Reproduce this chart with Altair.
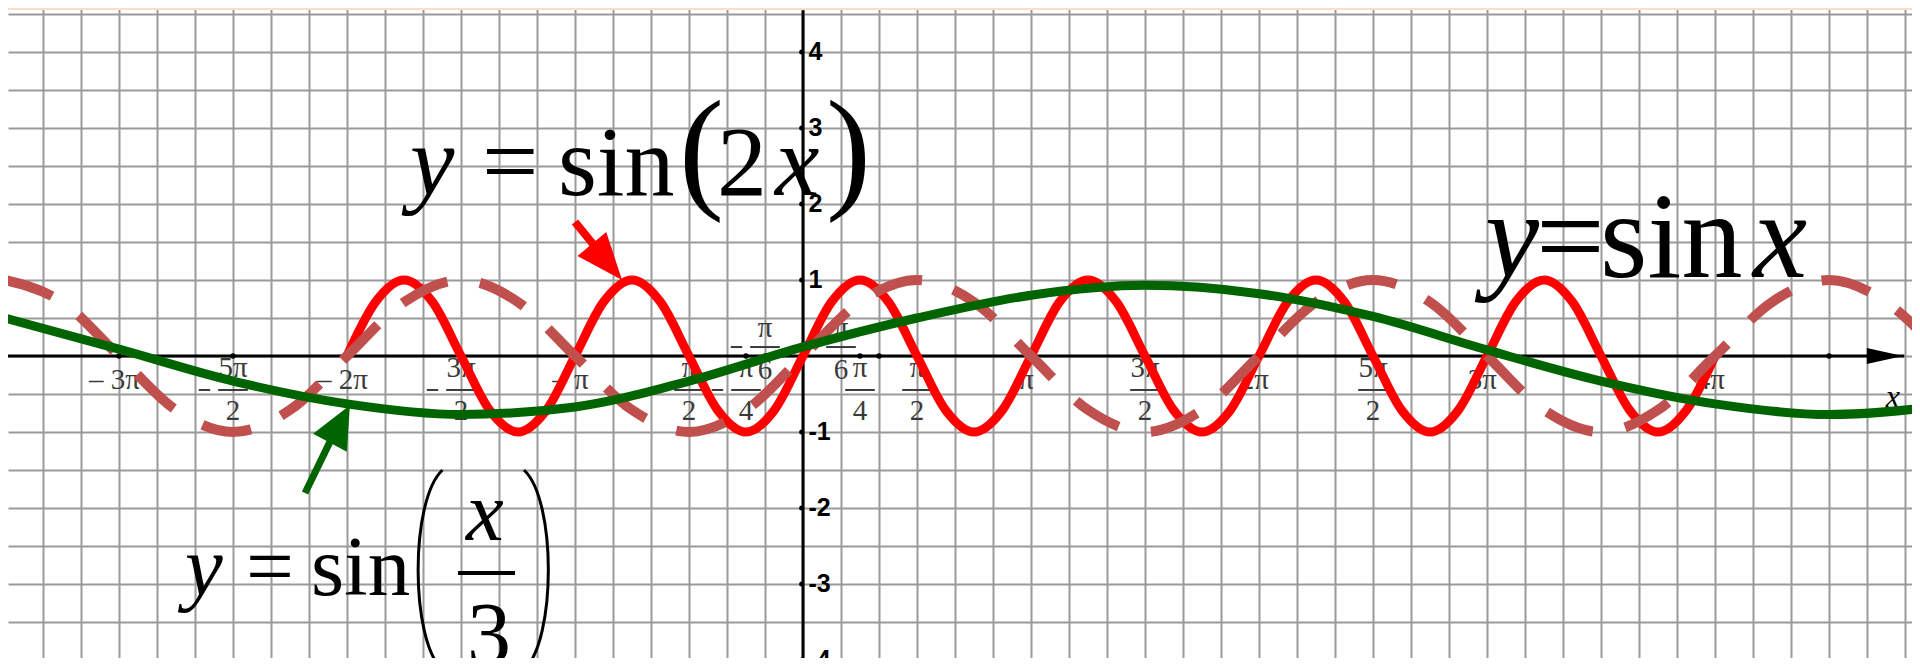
import altair as alt
import pandas as pd

# ---------------- data (x in multiples of pi, y in plot units) ----------------
red_x = [-2.0, -1.875, -1.75, -1.625, -1.5, -1.375, -1.25, -1.125,
         -1.0, -0.875, -0.75, -0.625, -0.5, -0.375, -0.25, -0.125,
         0.0, 0.125, 0.25, 0.375, 0.5, 0.625, 0.75, 0.875,
         1.0, 1.125, 1.25, 1.375, 1.5, 1.625, 1.75, 1.875,
         2.0, 2.125, 2.25, 2.375, 2.5, 2.625, 2.75, 2.875,
         3.0, 3.125, 3.25, 3.375, 3.5, 3.625, 3.75, 3.875, 4.0]
red_y = [0, 0.71, 1, 0.71, 0, -0.71, -1, -0.71,
         0, 0.71, 1, 0.71, 0, -0.71, -1, -0.71,
         0, 0.71, 1, 0.71, 0, -0.71, -1, -0.71,
         0, 0.71, 1, 0.71, 0, -0.71, -1, -0.71,
         0, 0.71, 1, 0.71, 0, -0.71, -1, -0.71,
         0, 0.71, 1, 0.71, 0, -0.71, -1, -0.71, 0]

dash_x = [-3.5, -3.25, -3.0, -2.75, -2.5, -2.25, -2.0, -1.75,
          -1.5, -1.25, -1.0, -0.75, -0.5, -0.25, 0.0, 0.25,
          0.5, 0.75, 1.0, 1.25, 1.5, 1.75, 2.0, 2.25,
          2.5, 2.75, 3.0, 3.25, 3.5, 3.75, 4.0, 4.25,
          4.5, 4.75, 5.0]
dash_y = [1, 0.71, 0, -0.71, -1, -0.71, 0, 0.71,
          1, 0.71, 0, -0.71, -1, -0.71, 0, 0.71,
          1, 0.71, 0, -0.71, -1, -0.71, 0, 0.71,
          1, 0.71, 0, -0.71, -1, -0.71, 0, 0.71,
          1, 0.71, 0]

green_x = [-3.5, -3.0, -2.5, -2.0, -1.5, -1.0, -0.5, 0.0, 0.5,
           1.0, 1.5, 2.0, 2.5, 3.0, 3.5, 4.0, 4.5, 5.0]
green_y = [0.50, 0.09, -0.33, -0.63, -0.77, -0.67, -0.33, 0.12, 0.50,
           0.80, 0.93, 0.82, 0.52, 0.08, -0.33, -0.63, -0.77, -0.66]

ytick_vals = [4, 3, 2, 1, -1, -2, -3, -4]
ytick_text = ["4", "3", "2", "1", "-1", "-2", "-3", "-4"]

xlab_x = [-3, -2, -1, 1, 2, 3, 4]
xlab_text = ["– 3π", "– 2π", "– π", "π", "2π", "3π", "4π"]

frac_x = [-2.5, -1.5, -0.5, -0.25, 0.25, 0.5, 1.5, 2.5]
frac_num = ["5π", "3π", "π", "π", "π", "π", "3π", "5π"]
frac_den = ["2", "2", "2", "4", "4", "2", "2", "2"]
frac_neg = [True, True, True, True, False, False, False, False]

frac6_x = [-1 / 6, 1 / 6]
frac6_num = ["π", "π"]
frac6_den = ["6", "6"]
frac6_neg = [True, False]

xdot_x = [-3, -2.5, -2, -1.5, -0.25, -1 / 6, 0.25, 1 / 3, 4.5]

# ---------------- layout ----------------
W, H = 1904, 650
X_DOM = [-3.48684, 4.86404]
Y_DOM = [-3.97368, 4.57895]
grid_x = [k / 6 for k in range(-21, 30)]
grid_y = [k / 2 for k in range(-8, 10)]

xs = alt.Scale(domain=X_DOM, nice=False, zero=False)
ys = alt.Scale(domain=Y_DOM, nice=False, zero=False)
ax_x = alt.Axis(values=grid_x, grid=True, labels=False, ticks=False, domain=False,
                title=None, gridColor="#9a9a9a", gridWidth=2, gridOpacity=1)
ax_y = alt.Axis(values=grid_y, grid=True, labels=False, ticks=False, domain=False,
                title=None, gridColor="#9a9a9a", gridWidth=2, gridOpacity=1)


def X(f):
    return alt.X(f, type="quantitative", scale=xs, axis=ax_x)


def Y(f):
    return alt.Y(f, type="quantitative", scale=ys, axis=ax_y)


LBL_Y, NUM_Y, BAR_Y, DEN_Y = -0.316, -0.158, -0.447, -0.724
NUM6_Y, BAR6_Y, DEN6_Y = 0.368, 0.118, -0.184

red_df = pd.DataFrame({"x": red_x, "y": red_y})
dash_df = pd.DataFrame({"x": dash_x, "y": dash_y})
green_df = pd.DataFrame({"x": green_x, "y": green_y})

# axes lines
xaxis_df = pd.DataFrame({"x": [X_DOM[0]], "x2": [4.83], "y": [0.0]})
yaxis_df = pd.DataFrame({"x": [0.0], "y": [Y_DOM[0]], "y2": [4.55]})

x_axis = alt.Chart(xaxis_df).mark_rule(color="black", strokeWidth=3).encode(
    x=X("x"), x2="x2", y=Y("y"))
y_axis = alt.Chart(yaxis_df).mark_rule(color="black", strokeWidth=3).encode(
    x=X("x"), y=Y("y"), y2="y2")
arrow_df = pd.DataFrame({"x": [4.745], "y": [0.0]})
x_arrow = alt.Chart(arrow_df).mark_point(
    shape="M1,0 L-1,-0.45 L-1,0.45 Z", filled=True, size=1300, color="black", opacity=1
).encode(x=X("x"), y=Y("y"))
xname = alt.Chart(pd.DataFrame({"x": [4.78], "y": [-0.54], "t": ["x"]})).mark_text(
    font="Liberation Serif", fontStyle="italic", fontSize=32, color="black",
    align="center", baseline="middle").encode(x=X("x"), y=Y("y"), text="t")

peach = alt.Chart(pd.DataFrame({"a": [0]})).mark_rect(color="#FBDCC5").encode(
    x=alt.value(0), x2=alt.value(W), y=alt.value(0), y2=alt.value(2))

# tick dots
xdots = alt.Chart(pd.DataFrame({"x": xdot_x, "y": [0.0] * len(xdot_x)})).mark_point(
    shape="circle", filled=True, size=30, color="black", opacity=1).encode(x=X("x"), y=Y("y"))
ydots = alt.Chart(pd.DataFrame({"x": [-0.006] * len(ytick_vals), "y": ytick_vals})).mark_point(
    shape="circle", filled=True, size=25, color="black", opacity=1).encode(x=X("x"), y=Y("y"))

# y labels
ylabels = alt.Chart(pd.DataFrame({"x": [0.024] * len(ytick_vals), "y": ytick_vals, "t": ytick_text})
                    ).mark_text(font="Liberation Sans", fontWeight="bold", fontSize=25,
                                color="black", align="left", baseline="middle"
                                ).encode(x=X("x"), y=Y("y"), text="t")

# x labels
lab_font = dict(font="Liberation Serif", fontSize=29, color="#3a3a3a", align="center", baseline="middle")
xlabels = alt.Chart(pd.DataFrame({"x": [v - 0.02 for v in xlab_x], "y": [LBL_Y] * len(xlab_x),
                                  "t": xlab_text})).mark_text(**lab_font).encode(
    x=X("x"), y=Y("y"), text="t")


def frac_layers(fx, fnum, fden, fneg, ny, by, dy):
    num = alt.Chart(pd.DataFrame({"x": fx, "y": [ny] * len(fx), "t": fnum})).mark_text(
        **lab_font).encode(x=X("x"), y=Y("y"), text="t")
    den = alt.Chart(pd.DataFrame({"x": fx, "y": [dy] * len(fx), "t": fden})).mark_text(
        **lab_font).encode(x=X("x"), y=Y("y"), text="t")
    bars = alt.Chart(pd.DataFrame({"x": [v - 0.065 for v in fx], "x2": [v + 0.065 for v in fx],
                                   "y": [by] * len(fx)})).mark_rule(
        color="#3a3a3a", strokeWidth=2).encode(x=X("x"), x2="x2", y=Y("y"))
    nx = [v for v, n in zip(fx, fneg) if n]
    minus = alt.Chart(pd.DataFrame({"x": [v - 0.15 for v in nx], "x2": [v - 0.1 for v in nx],
                                    "y": [by] * len(nx)})).mark_rule(
        color="#3a3a3a", strokeWidth=2).encode(x=X("x"), x2="x2", y=Y("y"))
    return [num, den, bars, minus]


fr1 = frac_layers(frac_x, frac_num, frac_den, frac_neg, NUM_Y, BAR_Y, DEN_Y)
fr2 = frac_layers(frac6_x, frac6_num, frac6_den, frac6_neg, NUM6_Y, BAR6_Y, DEN6_Y)

# curves
red_line = alt.Chart(red_df).mark_line(color="#FF0000", strokeWidth=9, interpolate="monotone",
                                       clip=True).encode(x=X("x"), y=Y("y"))
dash_line = alt.Chart(dash_df).mark_line(color="#C0504D", strokeWidth=10, strokeDash=[50, 33],
                                         strokeCap="butt", interpolate="monotone",
                                         clip=True).encode(x=X("x"), y=Y("y"))
green_line = alt.Chart(green_df).mark_line(color="#006400", strokeWidth=9, interpolate="monotone",
                                           clip=True).encode(x=X("x"), y=Y("y"))

# arrows
red_shaft = alt.Chart(pd.DataFrame({"x": [-1.0], "x2": [-0.915], "y": [1.763], "y2": [1.45]})
                      ).mark_rule(color="#FF0000", strokeWidth=8).encode(
    x=X("x"), x2="x2", y=Y("y"), y2="y2")
red_head = alt.Chart(pd.DataFrame({"x": [-0.86], "y": [1.237]})).mark_point(
    shape="M0,-1 L0.8,1 L-0.8,1 Z", filled=True, size=2209, angle=140,
    color="#FF0000", opacity=1).encode(x=X("x"), y=Y("y"))
green_shaft = alt.Chart(pd.DataFrame({"x": [-2.184], "x2": [-2.07], "y": [-1.803], "y2": [-1.10]})
                        ).mark_rule(color="#006400", strokeWidth=7).encode(
    x=X("x"), x2="x2", y=Y("y"), y2="y2")
green_head = alt.Chart(pd.DataFrame({"x": [-2.031], "y": [-0.895]})).mark_point(
    shape="M0,-1 L0.9,1 L-0.9,1 Z", filled=True, size=1806, angle=28,
    color="#006400", opacity=1).encode(x=X("x"), y=Y("y"))

# formula text
norm_df = pd.DataFrame({
    "x": [-1.408, -1.075, -0.377, 3.215, 3.496, -2.443, -2.158, -1.474],
    "y": [2.118, 2.118, 2.118, 1.039, 1.039, -3.145, -3.145, -4.04],
    "t": ["=", "sin", "2", "=", "sin", "=", "sin", "3"],
    "fs": [100, 100, 100, 122, 122, 85, 85, 88],
})
ital_df = pd.DataFrame({
    "x": [-1.724, -0.123, 2.991, 4.167, -2.711, -1.478],
    "y": [2.118, 2.118, 1.039, 1.039, -3.145, -2.421],
    "t": ["y", "x", "y", "x", "y", "x"],
    "fs": [100, 100, 122, 122, 85, 85],
})
paren_df = pd.DataFrame({"x": [-0.544, 0.101], "y": [2.13, 2.13], "t": ["(", ")"]})

norm_txt = alt.Chart(norm_df).mark_text(font="Liberation Serif", color="black", align="left",
                                        baseline="alphabetic").encode(
    x=X("x"), y=Y("y"), text="t", size=alt.Size("fs:Q", scale=None, legend=None))
ital_txt = alt.Chart(ital_df).mark_text(font="Liberation Serif", fontStyle="italic", color="black",
                                        align="left", baseline="alphabetic").encode(
    x=X("x"), y=Y("y"), text="t", size=alt.Size("fs:Q", scale=None, legend=None))
paren_txt = alt.Chart(paren_df).mark_text(font="Liberation Serif", fontSize=135, color="black",
                                          align="left", baseline="alphabetic").encode(
    x=X("x"), y=Y("y"), text="t")

frac_bar = alt.Chart(pd.DataFrame({"x": [-1.513], "x2": [-1.263], "y": [-2.855]})).mark_rule(
    color="black", strokeWidth=4).encode(x=X("x"), x2="x2", y=Y("y"))
lparen = alt.Chart(pd.DataFrame({"x": [-1.636], "y": [-2.816]})).mark_point(
    shape="M0.125,-1 C-0.2,-0.7 -0.2,0.7 0.125,1", filled=False, size=40000,
    strokeWidth=3, color="black", opacity=1).encode(x=X("x"), y=Y("y"))
rparen = alt.Chart(pd.DataFrame({"x": [-1.169], "y": [-2.816]})).mark_point(
    shape="M-0.125,-1 C0.2,-0.7 0.2,0.7 -0.125,1", filled=False, size=40000,
    strokeWidth=3, color="black", opacity=1).encode(x=X("x"), y=Y("y"))

chart = alt.layer(
    peach, x_axis, y_axis, x_arrow, xname, xdots, ydots, ylabels, xlabels, *fr1, *fr2,
    red_line, dash_line, green_line,
    red_shaft, red_head, green_shaft, green_head,
    norm_txt, ital_txt, paren_txt, frac_bar, lparen, rparen,
).properties(
    width=W, height=H, padding=0, autosize=alt.AutoSizeParams(type="none"), background="white"
).configure_view(stroke=None)

chart.save("out.html", embed_options={"renderer": "svg", "actions": False})
